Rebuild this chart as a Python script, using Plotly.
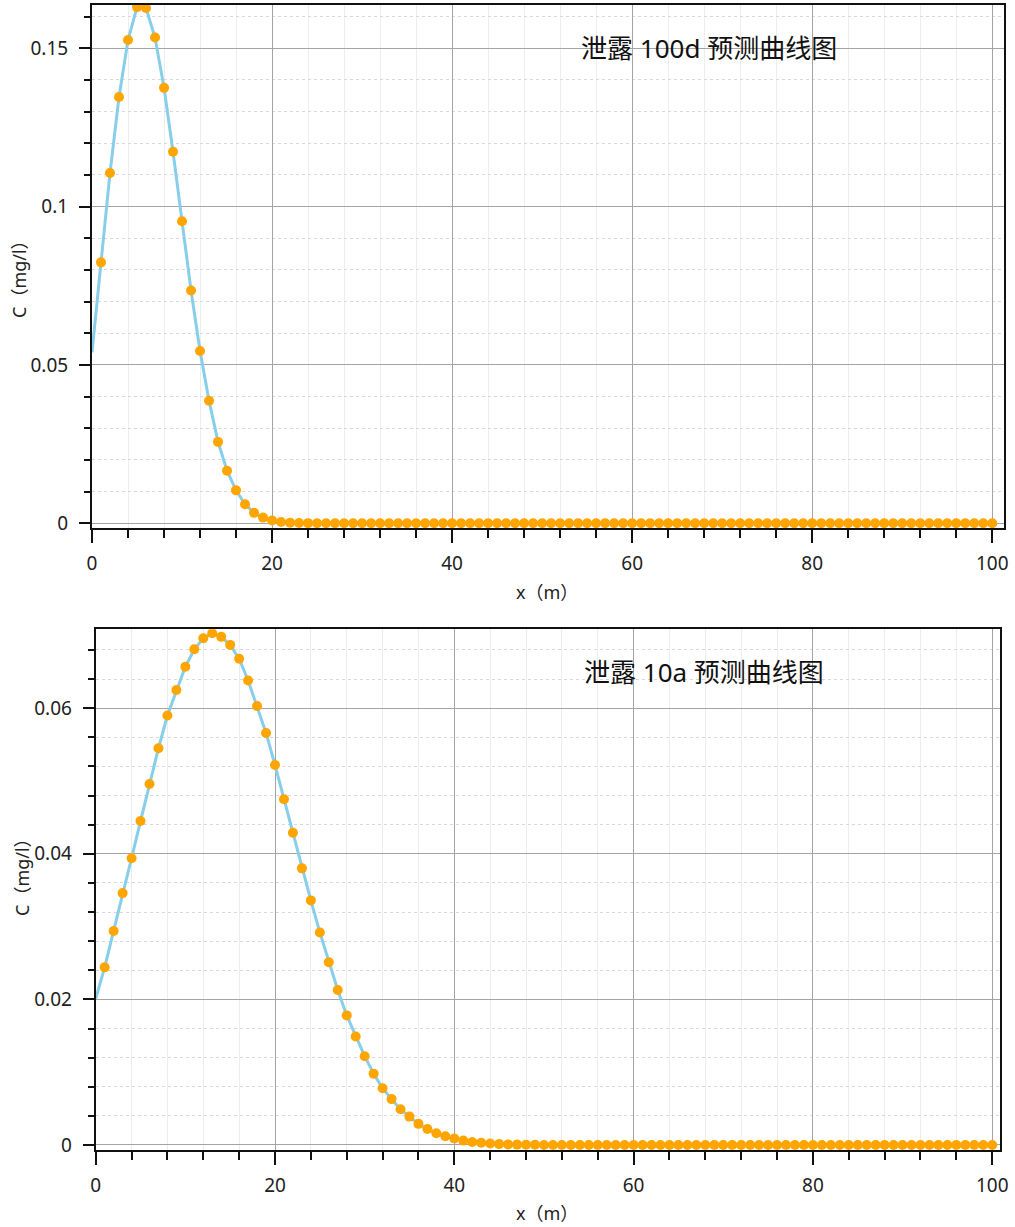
import plotly.graph_objects as go

# ---------------- data ----------------
x_vals = list(range(0, 101))

c_100d = [0.054, 0.0824, 0.1106, 0.1346, 0.1526, 0.1630, 0.1627, 0.1534, 0.1375, 0.1173,
          0.0954, 0.0735, 0.0544, 0.0387, 0.0257, 0.0166, 0.0104, 0.0060, 0.0033, 0.0018,
          0.0009, 0.0004, 0.0002, 0.0001, 0.00005, 0.0, 0.0, 0.0, 0.0, 0.0,
          0.0, 0.0, 0.0, 0.0, 0.0, 0.0, 0.0, 0.0, 0.0, 0.0,
          0.0, 0.0, 0.0, 0.0, 0.0, 0.0, 0.0, 0.0, 0.0, 0.0,
          0.0, 0.0, 0.0, 0.0, 0.0, 0.0, 0.0, 0.0, 0.0, 0.0,
          0.0, 0.0, 0.0, 0.0, 0.0, 0.0, 0.0, 0.0, 0.0, 0.0,
          0.0, 0.0, 0.0, 0.0, 0.0, 0.0, 0.0, 0.0, 0.0, 0.0,
          0.0, 0.0, 0.0, 0.0, 0.0, 0.0, 0.0, 0.0, 0.0, 0.0,
          0.0, 0.0, 0.0, 0.0, 0.0, 0.0, 0.0, 0.0, 0.0, 0.0,
          0.0]

c_10a = [0.0201, 0.0244, 0.0294, 0.0346, 0.0394, 0.0445, 0.0496, 0.0545, 0.0590, 0.0625,
         0.0657, 0.0681, 0.0696, 0.0703, 0.0698, 0.0687, 0.0668, 0.0638, 0.0603, 0.0566,
         0.0522, 0.0475, 0.0429, 0.0380, 0.0336, 0.0292, 0.0251, 0.0213, 0.0178, 0.0149,
         0.0122, 0.0098, 0.0078, 0.0063, 0.0049, 0.0039, 0.0029, 0.0022, 0.0016, 0.0012,
         0.0009, 0.0006, 0.0004, 0.0003, 0.0002, 0.00012, 0.00008, 0.00005, 0.00003, 0.00002,
         0.0, 0.0, 0.0, 0.0, 0.0, 0.0, 0.0, 0.0, 0.0, 0.0,
         0.0, 0.0, 0.0, 0.0, 0.0, 0.0, 0.0, 0.0, 0.0, 0.0,
         0.0, 0.0, 0.0, 0.0, 0.0, 0.0, 0.0, 0.0, 0.0, 0.0,
         0.0, 0.0, 0.0, 0.0, 0.0, 0.0, 0.0, 0.0, 0.0, 0.0,
         0.0, 0.0, 0.0, 0.0, 0.0, 0.0, 0.0, 0.0, 0.0, 0.0,
         0.0]

title_top = "泄露 100d 预测曲线图"
title_bottom = "泄露 10a 预测曲线图"
x_title = "x（m）"
y_title = "C（mg/l）"

# ---------------- figure ----------------
W, H = 1015, 1227
LINE_COLOR = "#87CEEB"
MARKER_COLOR = "#FFA500"
FONT = "Noto Sans, Noto Sans CJK SC, sans-serif"

fig = go.Figure()

for c_vals, xa, ya in [(c_100d, "x", "y"), (c_10a, "x2", "y2")]:
    fig.add_trace(go.Scatter(x=x_vals, y=c_vals, mode="lines",
                             line=dict(color=LINE_COLOR, width=3),
                             xaxis=xa, yaxis=ya, showlegend=False, hoverinfo="skip"))
    fig.add_trace(go.Scatter(x=x_vals[1:], y=c_vals[1:], mode="markers",
                             marker=dict(color=MARKER_COLOR, size=10, line=dict(width=0)),
                             xaxis=xa, yaxis=ya, showlegend=False))


def px_x(p):
    return p / W


def px_y(p):
    return 1 - p / H


common_x = dict(
    automargin=False,
    showline=True, linecolor="#111111", linewidth=2, mirror=True,
    ticks="outside", ticklen=13, tickwidth=2, tickcolor="#111111",
    dtick=20, tick0=0,
    showgrid=True, gridcolor="#a4a4a4", gridwidth=1,
    minor=dict(dtick=4, ticks="outside", ticklen=8, tickwidth=2, tickcolor="#111111",
               showgrid=True, gridcolor="#ededed", gridwidth=1),
    zeroline=False,
    tickfont=dict(family=FONT, size=19, color="#222222"),
    ticklabelstandoff=4,
)
common_y = dict(
    automargin=False,
    showline=True, linecolor="#111111", linewidth=2, mirror=True,
    ticks="outside", ticklen=11, tickwidth=2, tickcolor="#111111",
    showgrid=True, gridcolor="#a4a4a4", gridwidth=1,
    zeroline=False,
    tickfont=dict(family=FONT, size=19, color="#222222"),
    ticklabelstandoff=7,
)

fig.update_layout(
    template="none",
    width=W, height=H,
    margin=dict(l=0, r=0, t=0, b=0, pad=0),
    paper_bgcolor="white", plot_bgcolor="white",
    xaxis=dict(common_x, domain=[px_x(92), px_x(1003.5)], range=[0, 101.25], anchor="y"),
    yaxis=dict(common_y, domain=[px_y(528.3), px_y(5)], range=[-0.00158, 0.16366],
               dtick=0.05, tick0=0, anchor="x",
               minor=dict(dtick=0.01, ticks="outside", ticklen=6, tickwidth=2, tickcolor="#111111",
                          showgrid=True, gridcolor="#d8d8d8", gridwidth=1, griddash="dot")),
    xaxis2=dict(common_x, domain=[px_x(95.7), px_x(1000)], range=[0, 100.87], anchor="y2"),
    yaxis2=dict(common_y, domain=[px_y(1150), px_y(629.3)], range=[-0.00069, 0.07084],
                dtick=0.02, tick0=0, anchor="x2",
                minor=dict(dtick=0.004, ticks="outside", ticklen=6, tickwidth=2, tickcolor="#111111",
                           showgrid=True, gridcolor="#d8d8d8", gridwidth=1, griddash="dot")),
)

ann_font_title = dict(family=FONT, size=26, color="#111111")
ann_font_axis = dict(family=FONT, size=18, color="#222222")

annotations = [
    dict(text=title_top, x=px_x(709), y=px_y(48), xanchor="center", yanchor="middle", font=ann_font_title),
    dict(text=title_bottom, x=px_x(704), y=px_y(672), xanchor="center", yanchor="middle", font=ann_font_title),
    dict(text=x_title, x=px_x(547), y=px_y(592), xanchor="center", yanchor="middle", font=ann_font_axis),
    dict(text=x_title, x=px_x(547), y=px_y(1213), xanchor="center", yanchor="middle", font=ann_font_axis),
    dict(text=y_title, x=px_x(19), y=px_y(275), xanchor="center", yanchor="middle", textangle=-90, font=ann_font_axis),
    dict(text=y_title, x=px_x(22), y=px_y(873), xanchor="center", yanchor="middle", textangle=-90, font=ann_font_axis),
]
for a in annotations:
    a.update(xref="paper", yref="paper", showarrow=False)
fig.update_layout(annotations=annotations)

fig.write_html("out.html")
